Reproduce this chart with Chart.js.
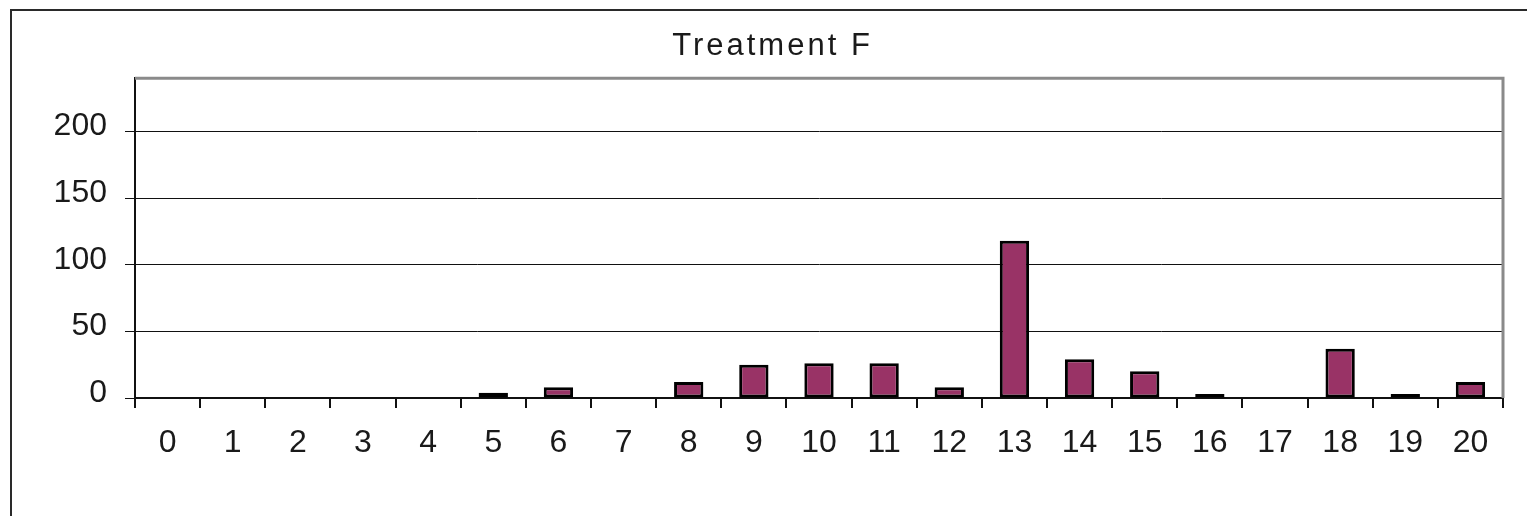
<!DOCTYPE html>
<html>
<head>
<meta charset="utf-8">
<script src="https://cdn.jsdelivr.net/npm/chart.js@4/dist/chart.umd.min.js"></script>
<style>
  html, body { margin: 0; padding: 0; background: #fff; overflow: hidden; }
  #frame { position: absolute; left: 10px; top: 9px; width: 1600px; height: 600px; border: 2px solid #2a2a2a; }
  #wrap { position: absolute; left: 0; top: 0; width: 1527px; height: 516px; }
</style>
</head>
<body>
<div id="frame"></div>
<div id="wrap"><canvas id="myChart" width="1527" height="516"></canvas></div>
<script>
// values
const categories = ['0','1','2','3','4','5','6','7','8','9','10','11','12','13','14','15','16','17','18','19','20'];
const counts = [0, 0, 0, 0, 0, 4, 8, 0, 12, 25, 26, 26, 8, 118, 29, 20, 3, 0, 37, 3, 12];
const yTicks = [0, 50, 100, 150, 200];
const chartTitle = 'Treatment F';

const FONT = '"Liberation Sans", Arial, sans-serif';
const INK = '#1a1a1a';

// gray frame on top/right of the plot, like the excel chart
const plotFrame = {
    id: 'plotFrame',
    afterDatasetsDraw(chart) {
        const { ctx, chartArea: a } = chart;
        ctx.save();
        ctx.strokeStyle = '#8a8a8a';
        ctx.lineWidth = 3;
        ctx.beginPath();
        ctx.moveTo(a.left, a.top);
        ctx.lineTo(a.right, a.top);
        ctx.lineTo(a.right, a.bottom);
        ctx.stroke();
        ctx.restore();
    }
};

// title text is spaced out a bit in the original
const titleSpacing = {
    id: 'titleSpacing',
    beforeDraw(chart) { chart.ctx.letterSpacing = '3px'; },
    beforeDatasetsDraw(chart) { chart.ctx.letterSpacing = '0px'; }
};

new Chart(document.getElementById('myChart'), {
    type: 'bar',
    data: {
        labels: categories,
        datasets: [{
            data: counts,
            backgroundColor: '#993366',
            borderColor: '#000',
            borderWidth: 3,
            borderSkipped: false,
            categoryPercentage: 1,
            barPercentage: 0.45
        }]
    },
    options: {
        responsive: false,
        animation: false,
        layout: { padding: { left: 42, right: 24, top: 0, bottom: 0 } },
        plugins: {
            legend: { display: false },
            tooltip: { enabled: false },
            title: {
                display: true,
                text: chartTitle,
                color: INK,
                font: { family: FONT, size: 31, weight: 'normal' },
                padding: { top: 28, bottom: 13 }
            }
        },
        scales: {
            x: {
                offset: true,
                afterFit(axis) { axis.height = 118; },
                grid: {
                    offset: true,
                    drawOnChartArea: false,
                    drawTicks: true,
                    tickLength: 10,
                    color: '#111',
                    lineWidth: 2
                },
                border: { display: true, color: '#111', width: 2 },
                ticks: {
                    z: 1,
                    color: INK,
                    padding: 16,
                    maxRotation: 0,
                    autoSkip: false,
                    font: { family: FONT, size: 32 }
                }
            },
            y: {
                min: 0,
                max: 240,
                afterFit(axis) { axis.width = 93; },
                afterBuildTicks(axis) {
                    axis.ticks = yTicks.map(v => ({ value: v }));
                },
                grid: {
                    color: '#111',
                    lineWidth: 1,
                    tickLength: 10
                },
                border: { display: true, color: '#111', width: 2 },
                ticks: {
                    z: 1,
                    color: INK,
                    padding: 18,
                    labelOffset: -5,
                    font: { family: FONT, size: 32 }
                }
            }
        }
    },
    plugins: [plotFrame, titleSpacing]
});
</script>
</body>
</html>
